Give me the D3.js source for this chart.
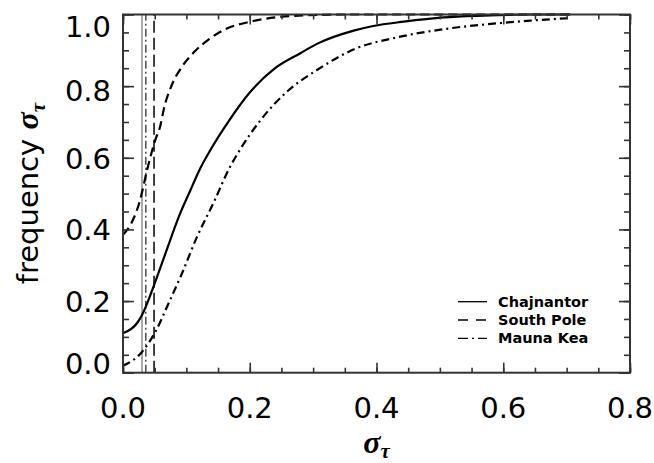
<!DOCTYPE html>
<html>
<head>
<meta charset="utf-8">
<script src="https://cdn.jsdelivr.net/npm/d3@7"></script>
<style>
  html, body { margin: 0; padding: 0; background: #fff; }
  svg { display: block; }
</style>
</head>
<body>
<svg id="chart" width="654" height="463"></svg>
<script>
// ---------- data ----------
const chajX = [0, 0.022, 0.030, 0.037, 0.051, 0.069, 0.088, 0.106, 0.122, 0.138, 0.169, 0.198, 0.240, 0.280, 0.306, 0.364, 0.395, 0.443, 0.506, 0.569, 0.643, 0.706];
const chajY = [0.11, 0.138, 0.161, 0.189, 0.254, 0.343, 0.435, 0.508, 0.571, 0.622, 0.708, 0.778, 0.85, 0.892, 0.918, 0.955, 0.968, 0.98, 0.992, 0.997, 1.0, 1.0];

const poleX = [0, 0.014, 0.027, 0.038, 0.051, 0.059, 0.064, 0.077, 0.093, 0.115, 0.138, 0.159, 0.201, 0.269, 0.35, 0.5, 0.706];
const poleY = [0.385, 0.42, 0.482, 0.566, 0.65, 0.69, 0.733, 0.803, 0.854, 0.9, 0.934, 0.957, 0.98, 0.996, 1.0, 1.0, 1.0];

const maunaX = [0, 0.030, 0.051, 0.072, 0.093, 0.117, 0.143, 0.169, 0.182, 0.217, 0.259, 0.306, 0.369, 0.432, 0.506, 0.601, 0.643, 0.706];
const maunaY = [0.019, 0.058, 0.114, 0.194, 0.277, 0.38, 0.475, 0.575, 0.615, 0.705, 0.785, 0.845, 0.906, 0.936, 0.959, 0.977, 0.983, 0.99];

const siteNames = ["Chajnantor", "South Pole", "Mauna Kea"];
const medianSigma = [0.030, 0.049, 0.036];   // vertical markers: Chajnantor, South Pole, Mauna Kea

const xTicks = [0.0, 0.2, 0.4, 0.6, 0.8];
const yTicks = [0.0, 0.2, 0.4, 0.6, 0.8, 1.0];
const xMinor = d3.range(0, 0.8001, 0.05);
const yMinor = d3.range(0, 1.0001, 0.05);

// ---------- layout ----------
const svg = d3.select("#chart");
const L = 123, R = 630, T = 14.5, B = 372.7;
const x = d3.scaleLinear().domain([0, 0.8]).range([L, R]);
const y = d3.scaleLinear().domain([0, 1.0]).range([B, T]);

const axisColor = "#333";
const styles = [
  { dash: null, width: 2.2 },
  { dash: "9,5", width: 2.2 },
  { dash: "8,4,2,4", width: 2.2 }
];
const vStyles = [
  { dash: null, width: 1, color: "#555" },
  { dash: "12,5", width: 1.6, color: "#111" },
  { dash: "8,3,2,3", width: 1.3, color: "#333" }
];

// vertical marker lines
medianSigma.forEach((m, i) => {
  svg.append("line")
    .attr("x1", x(m)).attr("x2", x(m))
    .attr("y1", y(0)).attr("y2", y(1))
    .attr("stroke", vStyles[i].color)
    .attr("stroke-width", vStyles[i].width)
    .attr("stroke-dasharray", vStyles[i].dash);
});

// curves
const series = [
  d3.zip(chajX, chajY),
  d3.zip(poleX, poleY),
  d3.zip(maunaX, maunaY)
];
const line = d3.line().x(d => x(d[0])).y(d => y(d[1])).curve(d3.curveMonotoneX);
series.forEach((s, i) => {
  svg.append("path")
    .attr("d", line(s))
    .attr("fill", "none")
    .attr("stroke", "#000")
    .attr("stroke-width", styles[i].width)
    .attr("stroke-dasharray", styles[i].dash);
});

// axes (box with inward ticks)
const tickFont = "DejaVu Sans, sans-serif";
function styleAxis(g) {
  g.select(".domain").remove();
  g.selectAll("line").attr("stroke", axisColor).attr("stroke-width", 1.6);
}
// bottom
svg.append("g").attr("transform", `translate(0,${B})`)
  .call(d3.axisBottom(x).tickValues(xMinor).tickSize(-5).tickFormat(""))
  .call(styleAxis);
svg.append("g").attr("transform", `translate(0,${B})`)
  .call(d3.axisBottom(x).tickValues(xTicks).tickSize(-10).tickFormat(""))
  .call(styleAxis);
// top
svg.append("g").attr("transform", `translate(0,${T})`)
  .call(d3.axisTop(x).tickValues(xMinor).tickSize(-5).tickFormat(""))
  .call(styleAxis);
svg.append("g").attr("transform", `translate(0,${T})`)
  .call(d3.axisTop(x).tickValues(xTicks).tickSize(-10).tickFormat(""))
  .call(styleAxis);
// left
svg.append("g").attr("transform", `translate(${L},0)`)
  .call(d3.axisLeft(y).tickValues(yMinor).tickSize(-6).tickFormat(""))
  .call(styleAxis);
svg.append("g").attr("transform", `translate(${L},0)`)
  .call(d3.axisLeft(y).tickValues(yTicks).tickSize(-11).tickFormat(""))
  .call(styleAxis);
// right
svg.append("g").attr("transform", `translate(${R},0)`)
  .call(d3.axisRight(y).tickValues(yMinor).tickSize(-6).tickFormat(""))
  .call(styleAxis);
svg.append("g").attr("transform", `translate(${R},0)`)
  .call(d3.axisRight(y).tickValues(yTicks).tickSize(-11).tickFormat(""))
  .call(styleAxis);

// frame
svg.append("rect")
  .attr("x", L).attr("y", T).attr("width", R - L).attr("height", B - T)
  .attr("fill", "none").attr("stroke", axisColor).attr("stroke-width", 2);

// tick labels
svg.append("g").selectAll("text").data(xTicks).join("text")
  .attr("x", d => x(d)).attr("y", 418)
  .attr("text-anchor", "middle")
  .attr("font-family", tickFont).attr("font-size", 29)
  .text(d => d.toFixed(1));

svg.append("g").selectAll("text").data(yTicks).join("text")
  .attr("x", 111)
  .attr("y", d => y(d) + 11 + (d === 1 ? 11 : 0) + (d === 0 ? -10 : 0) + (d === 0.8 ? 4 : 0))
  .attr("text-anchor", "end")
  .attr("font-family", tickFont).attr("font-size", 29)
  .text(d => d.toFixed(1));

// x-axis title
const xt = svg.append("text")
  .attr("x", (L + R) / 2).attr("y", 453)
  .attr("text-anchor", "middle");
xt.append("tspan").attr("font-family", "Liberation Serif, serif")
  .attr("font-style", "italic").attr("font-weight", "bold").attr("font-size", 32).text("σ");
xt.append("tspan").attr("font-family", "Liberation Serif, serif")
  .attr("font-style", "italic").attr("font-weight", "bold").attr("font-size", 21).attr("dy", 5).text("τ");

// y-axis title
const yt = svg.append("text")
  .attr("transform", `translate(38,${(T + B) / 2}) rotate(-90)`)
  .attr("text-anchor", "middle");
yt.append("tspan").attr("font-family", tickFont).attr("font-size", 29).text("frequency ");
yt.append("tspan").attr("font-family", "Liberation Serif, serif")
  .attr("font-style", "italic").attr("font-weight", "bold").attr("font-size", 32).text("σ");
yt.append("tspan").attr("font-family", "Liberation Serif, serif")
  .attr("font-style", "italic").attr("font-weight", "bold").attr("font-size", 21).attr("dy", 7).text("τ");

// legend
const legY = [301.7, 320, 338.3];
const legDash = [null, "10,8", "10,4,2,4"];
siteNames.forEach((name, i) => {
  svg.append("line")
    .attr("x1", 458).attr("x2", 487)
    .attr("y1", legY[i]).attr("y2", legY[i])
    .attr("stroke", "#000").attr("stroke-width", 1.3)
    .attr("stroke-dasharray", legDash[i]);
  svg.append("text")
    .attr("x", 498).attr("y", legY[i] + 5)
    .attr("font-family", tickFont).attr("font-weight", "bold").attr("font-size", 14.5)
    .text(name);
});
</script>
</body>
</html>
